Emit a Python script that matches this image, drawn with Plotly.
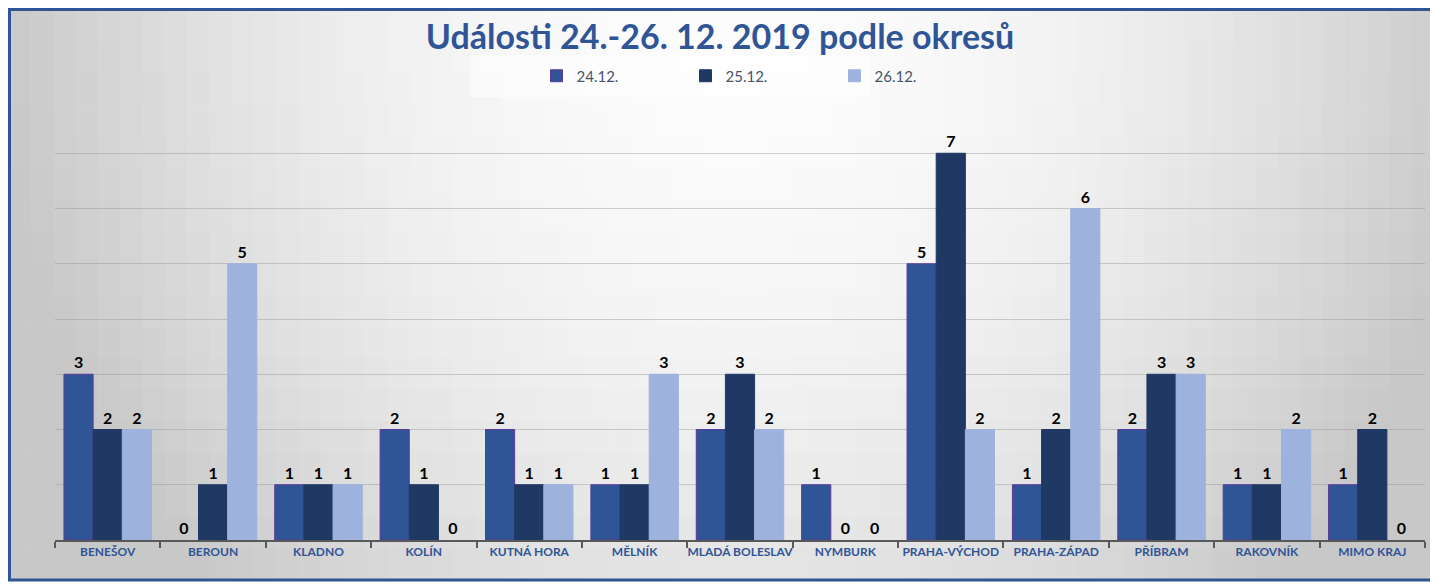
import plotly.graph_objects as go

# data
okresy = ["BENEŠOV", "BEROUN", "KLADNO", "KOLÍN", "KUTNÁ HORA", "MĚLNÍK", "MLADÁ BOLESLAV",
          "NYMBURK", "PRAHA-VÝCHOD", "PRAHA-ZÁPAD", "PŘÍBRAM", "RAKOVNÍK", "MIMO KRAJ"]
dny = ["24.12.", "25.12.", "26.12."]
udalosti_24 = [3, 0, 1, 2, 2, 1, 2, 1, 5, 1, 2, 1, 1]
udalosti_25 = [2, 1, 1, 1, 1, 1, 3, 0, 7, 2, 3, 1, 2]
udalosti_26 = [2, 5, 1, 0, 1, 3, 2, 0, 2, 6, 3, 2, 0]

barvy = ["#2F5597", "#1F3864", "#9DB3DD"]
obrysy = ["#5B3A9A", "#1F3864", "#9DB3DD"]

# the page body has an 8px margin, so the figure is drawn 8px in from the window edge
OFF = 8
W, H = 1438 - OFF, 584 - OFF
L, R, T, B = 55 - OFF, 13, 98 - OFF, 44
PW, PH = W - L - R, H - T - B


def px_x(px):
    # px is a window pixel of the reference
    return (px - OFF - L) / PW


def px_y(py):
    return (H - B - (py - OFF)) / PH


fig = go.Figure()

for den, hodnoty, barva, obrys in zip(dny, [udalosti_24, udalosti_25, udalosti_26], barvy, obrysy):
    fig.add_bar(
        x=okresy, y=hodnoty, name=den,
        # no outline on empty bars, otherwise a stray line sits on the axis
        marker=dict(color=barva, line=dict(color=obrys, width=[1 if v else 0 for v in hodnoty])),
        text=hodnoty, textposition="outside", cliponaxis=False,
        textfont=dict(family="Lato", size=16, color="black", weight="bold"),
    )

# radial-ish grey background made of small rectangles
shapes = []
ncol, nrow = 64, 18
x0, x1, y0, y1 = 9, 1434, 9, 580
cw, rh = (x1 - x0) / ncol, (y1 - y0) / nrow
for i in range(ncol):
    for j in range(nrow):
        cx = x0 + (i + 0.5) * cw
        cy = y0 + (j + 0.5) * rh
        d2 = ((cx - 740) / 734) ** 2 + ((cy - 20) / 800) ** 2
        v = int(round(252 - 52 * min(d2, 1.0)))
        shapes.append(dict(
            type="rect", xref="paper", yref="paper", layer="below",
            x0=px_x(x0 + i * cw), x1=px_x(x0 + (i + 1) * cw + 0.6),
            y0=px_y(y0 + (j + 1) * rh + 0.6), y1=px_y(y0 + j * rh),
            fillcolor=f"rgb({v},{v},{v})", line=dict(width=0),
        ))

# faint box behind the legend
shapes.append(dict(type="rect", xref="paper", yref="paper", layer="below",
                   x0=px_x(470), x1=px_x(870), y0=px_y(97), y1=px_y(55),
                   fillcolor="rgba(255,255,255,0.5)", line=dict(width=0)))

# outer frame
shapes.append(dict(type="rect", xref="paper", yref="paper", layer="above",
                   x0=px_x(9.5), x1=px_x(1434), y0=px_y(580), y1=px_y(9.5),
                   line=dict(color="#2F5597", width=3)))

fig.update_layout(
    width=W, height=H,
    margin=dict(l=L, r=R, t=T, b=B, autoexpand=False),
    paper_bgcolor="white", plot_bgcolor="rgba(0,0,0,0)",
    barmode="group", bargap=0.17, bargroupgap=0,
    title=dict(text="Události 24.-26. 12. 2019 podle okresů", x=(720 - OFF) / W, xanchor="center",
               y=1 - (37 - OFF) / H, yanchor="middle", yref="container",
               font=dict(family="Lato", size=34, color="#2F5597", weight="bold")),
    legend=dict(orientation="h", xref="container", x=(760 - OFF) / W, xanchor="center",
                yref="container", y=1 - (76 - OFF) / H, yanchor="middle",
                font=dict(family="Lato", size=15, color="#44546A"),
                entrywidth=104, entrywidthmode="pixels", bgcolor="rgba(0,0,0,0)",
                itemclick=False),
    shapes=shapes,
    showlegend=True,
)

fig.update_xaxes(
    showline=True, linecolor="#595959", linewidth=1.5, automargin=False, tickangle=0,
    ticks="outside", tickson="boundaries", ticklen=6, tickcolor="#595959", tickwidth=1.5,
    tickfont=dict(family="Lato", size=12, color="#2F5597", weight="bold"),
    showgrid=False,
)
fig.update_yaxes(
    range=[0, 8], dtick=1, showticklabels=False, showgrid=True, automargin=False,
    gridcolor="rgba(150,150,150,0.45)", gridwidth=1, zeroline=False,
)

fig.write_html("out.html")
